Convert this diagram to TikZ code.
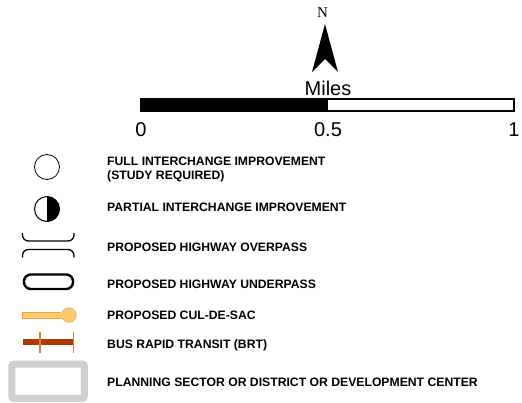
\documentclass[tikz,border=0pt]{standalone}
\usepackage{fontspec}
\setmainfont{Liberation Sans}
\newfontfamily\serifN{Liberation Serif}
\definecolor{culfill}{HTML}{FDCB6E}
\definecolor{culedge}{HTML}{E8A848}
\definecolor{brtline}{HTML}{B03A06}
\definecolor{brttick}{HTML}{D08040}
\definecolor{sectorgray}{HTML}{D0D0D0}
\begin{document}
\begin{tikzpicture}[x=1pt,y=-1pt,
  legtext/.style={anchor=base west,inner sep=0pt,font=\fontsize{12.2}{14.5}\selectfont\bfseries},
  scalenum/.style={anchor=base,inner sep=0pt,font=\fontsize{20}{22}\selectfont},
  sym/.style={line width=1.3pt}]
\useasboundingbox (0,0) rectangle (522,402);
% north arrow
\node[anchor=base,inner sep=0pt,font=\serifN\fontsize{15}{16}\selectfont] (north) at (322.5,17.5) {N};
\fill (325,24) -- (338,72) -- (325,59) -- (312,72) -- cycle;
% scale
\node[scalenum] (miles) at (328,95) {Miles};
\fill (141,99) rectangle (328,111);
\draw[line width=1.3pt] (141,99) rectangle (514,111);
\node[scalenum] (s0) at (141,136.5) {0};
\node[scalenum] (s05) at (328,136.5) {0.5};
\node[scalenum] (s1) at (514,136.5) {1};
% full interchange
\draw[line width=0.8pt] (47,167) circle (12.5);
\node[legtext] (full) at (107,165) {FULL INTERCHANGE IMPROVEMENT};
\node[legtext] (full2) at (107,179.5) {(STUDY REQUIRED)};
% partial interchange
\fill (47,196.5) arc[start angle=-90,end angle=90,radius=12.5] -- cycle;
\draw[line width=1pt] (47,209) circle (12.5);
\node[legtext] (partial) at (107,211.5) {PARTIAL INTERCHANGE IMPROVEMENT};
% overpass
\draw[sym,rounded corners=6pt] (22.5,233) -- (22.5,241) -- (74,241) -- (74,233);
\draw[sym,rounded corners=6pt] (22.5,257.5) -- (22.5,249.5) -- (74,249.5) -- (74,257.5);
\node[legtext] (over) at (107,251) {PROPOSED HIGHWAY OVERPASS};
% underpass
\draw[line width=2.4pt,rounded corners=6.8pt] (24,274.5) rectangle (73,289);
\node[legtext] (under) at (107,288) {PROPOSED HIGHWAY UNDERPASS};
% cul-de-sac
\draw[culedge,fill=culfill,line width=0.5pt] (22.5,312) rectangle (64,318);
\draw[culedge,fill=culfill,line width=0.5pt] (69,315) circle (7.3);
\fill[culfill] (60,312.3) rectangle (65,317.7);
\node[legtext] (cul) at (107,319) {PROPOSED CUL-DE-SAC};
% BRT
\fill[brtline] (22.5,339) rectangle (74,345);
\draw[brttick,line width=1.6pt] (40,331.5) -- (40,353);
\draw[brttick,line width=1.6pt] (73.5,331.5) -- (73.5,353);
\node[legtext] (brt) at (107,348.5) {BUS RAPID TRANSIT (BRT)};
% planning sector
\draw[sectorgray,line width=7pt,rounded corners=2pt] (11.8,364) rectangle (84.3,398.5);
\node[legtext] (plan) at (107,386) {PLANNING SECTOR OR DISTRICT OR DEVELOPMENT CENTER};
\end{tikzpicture}
\end{document}
